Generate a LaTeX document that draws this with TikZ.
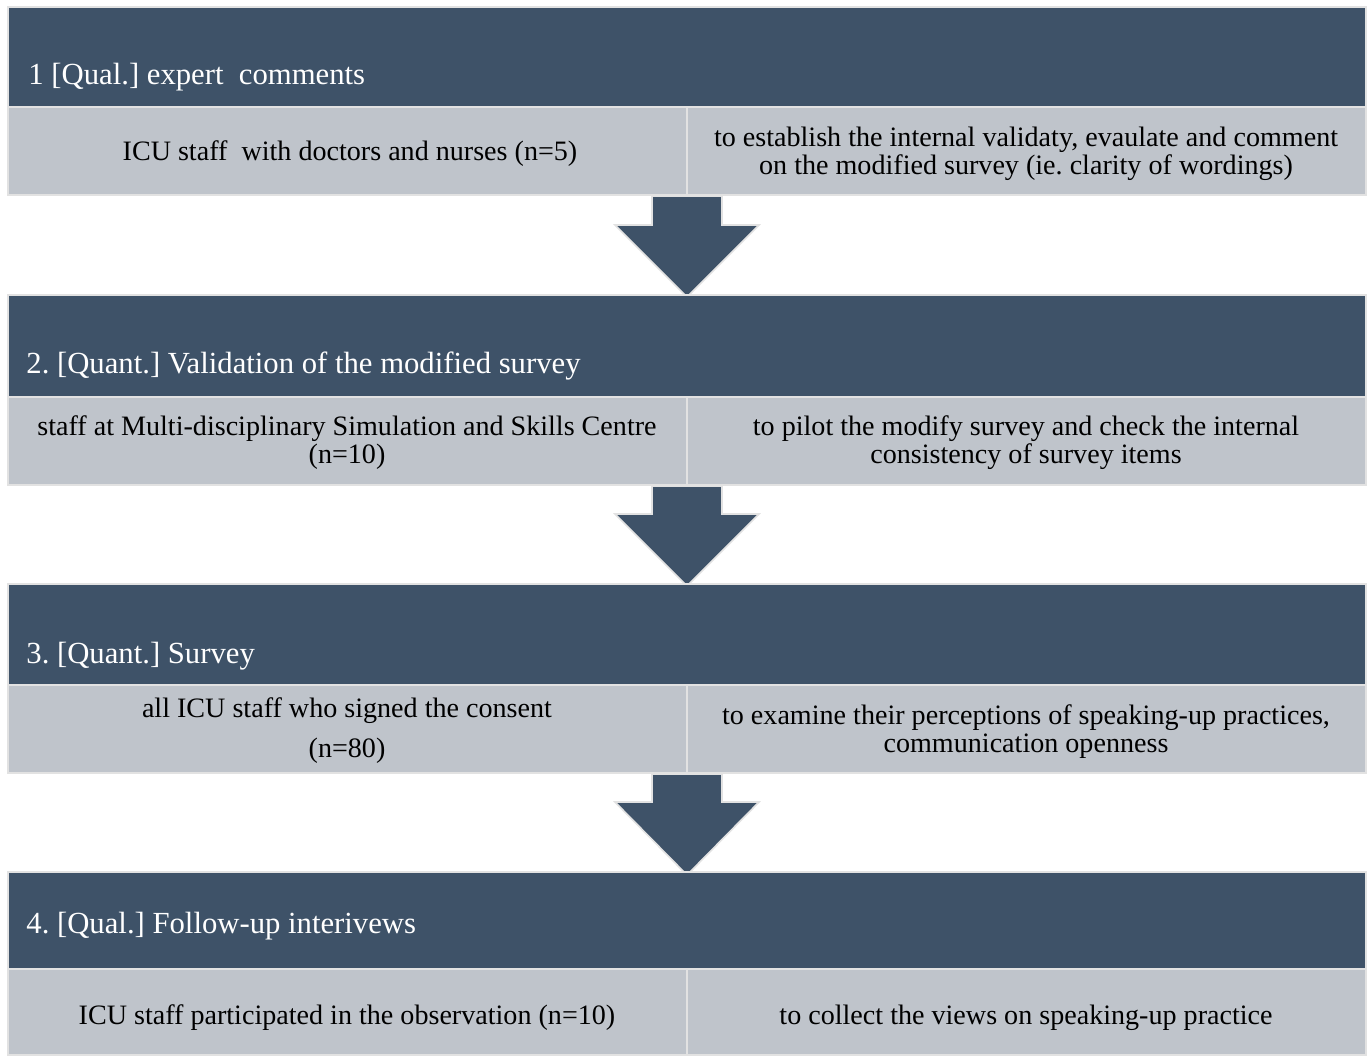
\documentclass[tikz,border=0pt]{standalone}
\usepackage{fontspec}
\setmainfont{Liberation Serif}
\frenchspacing
\definecolor{hdr}{HTML}{3E5268}
\definecolor{cell}{HTML}{BFC4CB}
\definecolor{edge}{HTML}{E2E2E2}
\begin{document}
\begin{tikzpicture}[x=0.5pt,y=-0.5pt,
  hdrbox/.style={fill=hdr,draw=edge,line width=0.8pt},
  cellbox/.style={fill=cell,draw=edge,line width=0.8pt},
  downarrow/.style={fill=hdr,draw=edge,line width=0.8pt},
  hdrtext/.style={anchor=base west,text=white,inner sep=0pt,font=\fontsize{15.35}{18}\selectfont},
  celltext/.style={anchor=center,align=center,inner sep=0pt,text=black,font=\fontsize{14.05}{14}\selectfont}]
\useasboundingbox (0,0) rectangle (1368,1057);
\fill[white] (0,0) rectangle (1368,1057);
% ---- Box 1
\draw[hdrbox] (8,7) rectangle (1366,107);
\draw[cellbox] (8,107) rectangle (687,195);
\draw[cellbox] (687,107) rectangle (1366,195);
\node[hdrtext] (h1) at (28,84.5) {1 [Qual.] expert\ \ comments};
\node[celltext] (l1) at (350,153.5) {ICU staff\ \ with doctors and nurses (n=5)};
\node[celltext] (r1) at (1026,153.5) {to establish the internal validaty, evaulate and comment\\on the modified survey (ie. clarity of wordings)};
% ---- Arrow 1
\draw[downarrow] (652,196) -- (722,196) -- (722,225) -- (759,225) -- (687,297) -- (615,225) -- (652,225) -- cycle;
% ---- Box 2
\draw[hdrbox] (8,295) rectangle (1366,397);
\draw[cellbox] (8,397) rectangle (687,485);
\draw[cellbox] (687,397) rectangle (1366,485);
\node[hdrtext] (h2) at (26,373) {2. [Quant.] Validation of the modified survey};
\node[celltext] (l2) at (347,443) {staff at Multi-disciplinary Simulation and Skills Centre\\(n=10)};
\node[celltext] (r2) at (1026,443) {to pilot the modify survey and check the internal\\consistency of survey items};
% ---- Arrow 2
\draw[downarrow] (652,486) -- (722,486) -- (722,514) -- (759,514) -- (687,586) -- (615,514) -- (652,514) -- cycle;
% ---- Box 3
\draw[hdrbox] (8,584) rectangle (1366,685);
\draw[cellbox] (8,685) rectangle (687,773);
\draw[cellbox] (687,685) rectangle (1366,773);
\node[hdrtext] (h3) at (26,663) {3. [Quant.] Survey};
\node[celltext] (l3) at (347,731) {all ICU staff who signed the consent\\[6pt](n=80)};
\node[celltext] (r3) at (1026,731.5) {to examine their perceptions of speaking-up practices,\\communication openness};
% ---- Arrow 3
\draw[downarrow] (652,774) -- (722,774) -- (722,802) -- (759,802) -- (687,875) -- (615,802) -- (652,802) -- cycle;
% ---- Box 4
\draw[hdrbox] (8,872) rectangle (1366,969);
\draw[cellbox] (8,969) rectangle (687,1055);
\draw[cellbox] (687,969) rectangle (1366,1055);
\node[hdrtext] (h4) at (26,933) {4. [Qual.] Follow-up interivews};
\node[celltext] (l4) at (347,1017.5) {ICU staff participated in the observation (n=10)};
\node[celltext] (r4) at (1026,1017.5) {to collect the views on speaking-up practice};
\end{tikzpicture}
\end{document}
